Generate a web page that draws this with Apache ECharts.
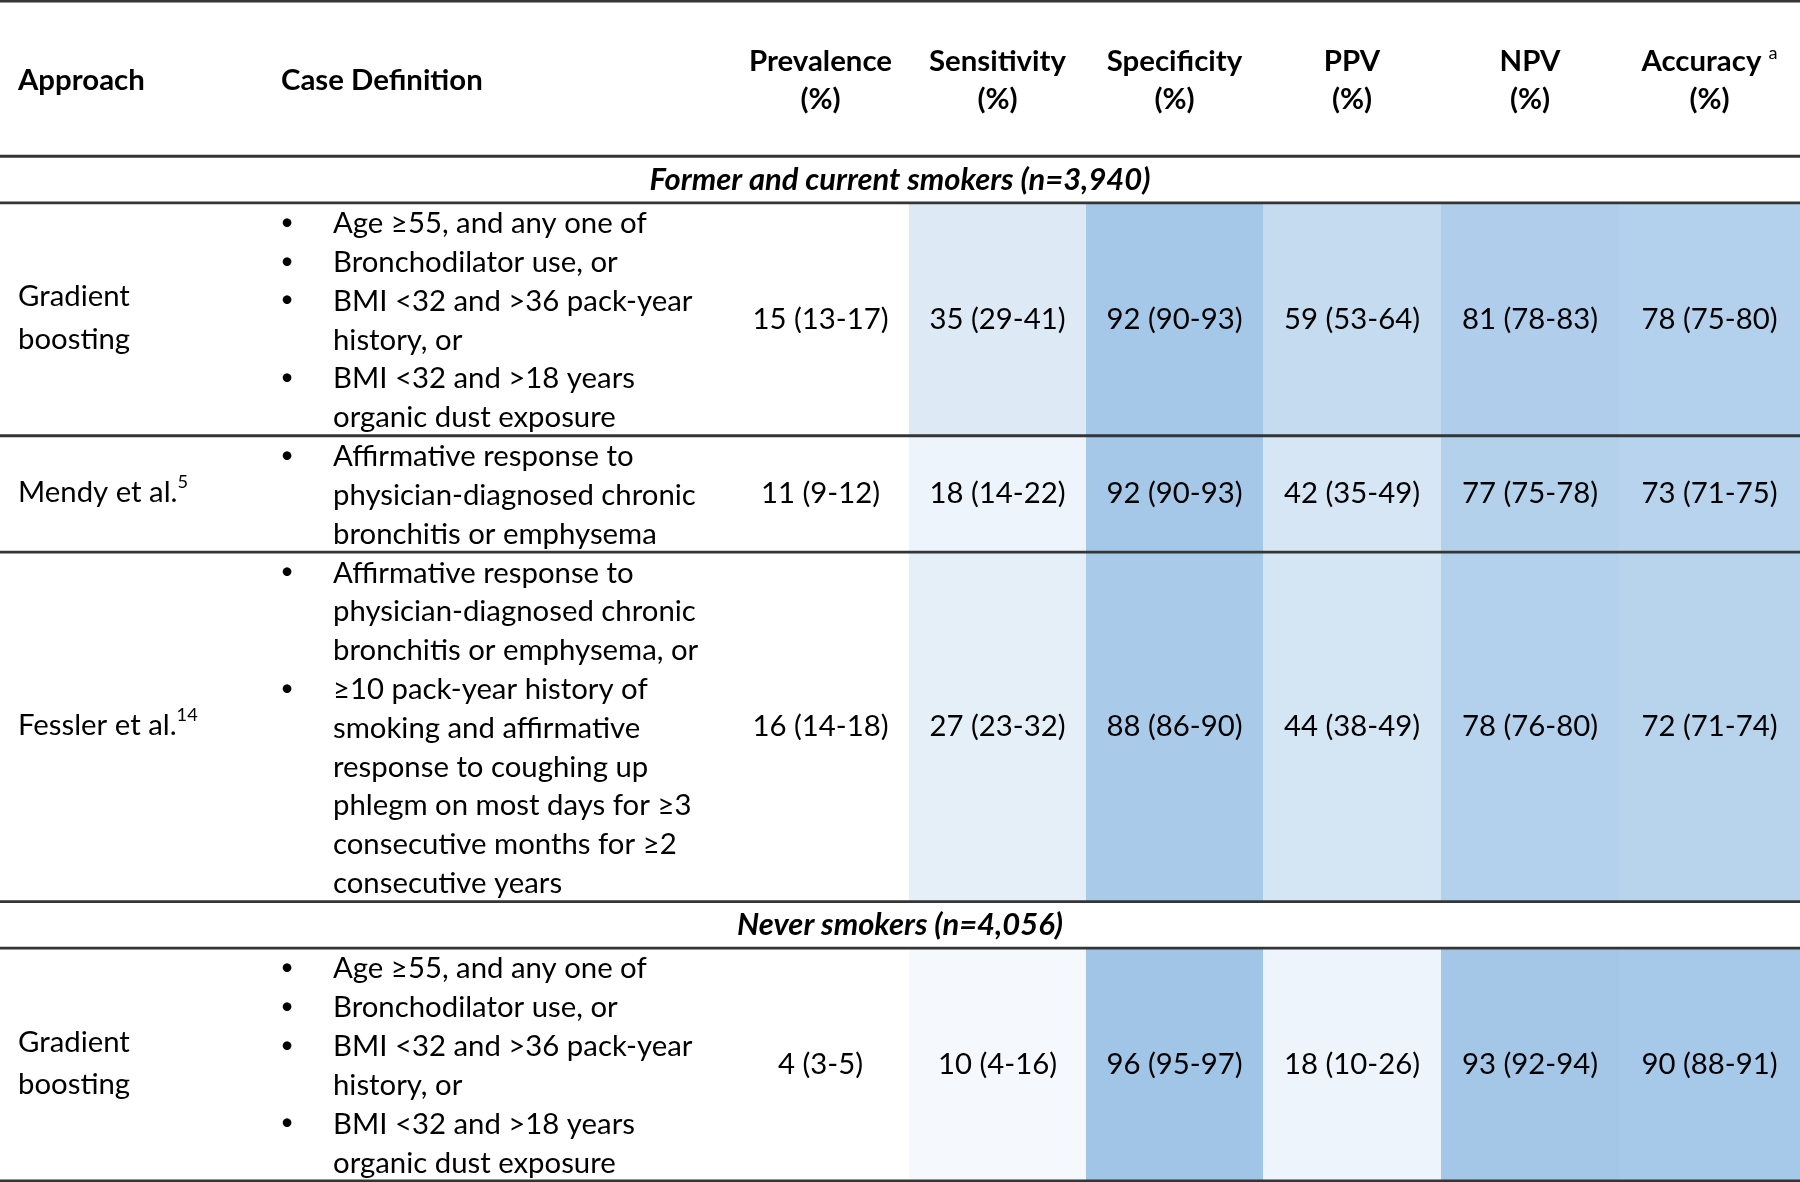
<!DOCTYPE html>
<html>
<head>
<meta charset="utf-8">
<script src="https://cdn.jsdelivr.net/npm/echarts@6/dist/echarts.min.js"></script>
<style>
html,body{margin:0;padding:0;background:#ffffff;}
#chart{width:1800px;height:1182px;}
</style>
</head>
<body>
<div id="chart"></div>
<script>
// ---------------- DATA ----------------
const groupTitles = ['Former and current smokers (n=3,940)', 'Never smokers (n=4,056)'];
const groupOfRow = [0, 0, 0, 1];
const approaches = [['Gradient', 'boosting'], ['Mendy et al.'], ['Fessler et al.'], ['Gradient', 'boosting']];
const approachRefs = ['', '5', '14', ''];
const caseDefinitions = [
  [['Age \u226555, and any one of'], ['Bronchodilator use, or'], ['BMI <32 and >36 pack-year', 'history, or'], ['BMI <32 and >18 years', 'organic dust exposure']],
  [['Affirmative response to', 'physician-diagnosed chronic', 'bronchitis or emphysema']],
  [['Affirmative response to', 'physician-diagnosed chronic', 'bronchitis or emphysema, or'],
   ['\u226510 pack-year history of', 'smoking and affirmative', 'response to coughing up', 'phlegm on most days for \u22653', 'consecutive months for \u22652', 'consecutive years']],
  [['Age \u226555, and any one of'], ['Bronchodilator use, or'], ['BMI <32 and >36 pack-year', 'history, or'], ['BMI <32 and >18 years', 'organic dust exposure']]
];
const headerLabels = ['Approach', 'Case Definition'];
const metricNames = ['Prevalence', 'Sensitivity', 'Specificity', 'PPV', 'NPV', 'Accuracy'];
const metricNotes = ['', '', '', '', '', 'a'];
const prevalence = [15, 11, 16, 4];
const prevalenceCI = ['13-17', '9-12', '14-18', '3-5'];
const sensitivity = [35, 18, 27, 10];
const sensitivityCI = ['29-41', '14-22', '23-32', '4-16'];
const specificity = [92, 92, 88, 96];
const specificityCI = ['90-93', '90-93', '86-90', '95-97'];
const ppv = [59, 42, 44, 18];
const ppvCI = ['53-64', '35-49', '38-49', '10-26'];
const npv = [81, 77, 78, 93];
const npvCI = ['78-83', '75-78', '76-80', '92-94'];
const accuracy = [78, 73, 72, 90];
const accuracyCI = ['75-80', '71-75', '71-74', '88-91'];

// ---------------- LAYOUT / STYLE ----------------
const FONT = 'Lato';
const TEXT = '#000000';
const RULE = '#353535';
const LAYOUT = {
  approachX: 18, caseHeaderX: 281, bulletX: 287, caseTextX: 333,
  colEdges: [732, 909, 1086, 1263, 1441, 1619, 1800],
  headerUnits: 4, groupUnits: 1.2, approachLineUnits: 1.1
};
const mctx = document.createElement('canvas').getContext('2d');
function fit(text, width, weight, style) {
  mctx.font = (style || 'normal') + ' ' + (weight || 'normal') + ' 100px ' + FONT;
  return 100 * width / mctx.measureText(text).width;
}
const BODY = fit('physician-diagnosed chronic', 363);
const HEAD = fit('Prevalence', 143, 'bold');
const SECT = fit('Former and current smokers (n=3,940)', 501, 'bold', 'italic');

const metricValues = [prevalence, sensitivity, specificity, ppv, npv, accuracy];
const metricCIs = [prevalenceCI, sensitivityCI, specificityCI, ppvCI, npvCI, accuracyCI];

// row bands in "line units"
const bands = [];
let u = 0;
const headerBand = { top: u, bottom: u + LAYOUT.headerUnits }; u += LAYOUT.headerUnits; bands.push(headerBand);
const groupBands = [];
const rowBands = [];
for (let r = 0; r < caseDefinitions.length; r++) {
  if (r === 0 || groupOfRow[r] !== groupOfRow[r - 1]) {
    const g = { top: u, bottom: u + LAYOUT.groupUnits, g: groupOfRow[r] };
    u += LAYOUT.groupUnits; groupBands.push(g); bands.push(g);
  }
  const n = caseDefinitions[r].reduce((s, b) => s + b.length, 0);
  const rb = { top: u, bottom: u + n };
  u += n; rowBands.push(rb); bands.push(rb);
}
const TOTAL = u;
const boundaries = [0].concat(bands.map(b => b.bottom));

function txt(x, y, text, align, extra) {
  return { type: 'text', style: Object.assign({ x: x, y: y, text: text, align: align, verticalAlign: 'middle',
    fontFamily: FONT, fontSize: BODY, fill: TEXT }, extra || {}) };
}
function supRich(size, weight, raise) {
  return {
    n: { fontFamily: FONT, fontSize: size, fontWeight: weight || 'normal', fill: TEXT },
    s: { fontFamily: FONT, fontSize: size * 0.62, fill: TEXT, padding: [0, 0, size * raise, 0] }
  };
}

// data for the coloured cells (metrics 1..5)
const cellData = [];
for (let r = 0; r < rowBands.length; r++) {
  for (let m = 1; m < metricNames.length; m++) cellData.push([m, r, metricValues[m][r]]);
}

const chart = echarts.init(document.getElementById('chart'), null, { renderer: 'canvas' });
chart.setOption({
  animation: false,
  backgroundColor: '#ffffff',
  grid: { left: 0, right: 0, top: 1, bottom: 1 },
  xAxis: { type: 'value', min: 0, max: 1800, show: false },
  yAxis: { type: 'value', min: 0, max: TOTAL, inverse: true, show: false },
  visualMap: { show: false, type: 'continuous', min: 0, max: 100, dimension: 2, seriesIndex: 0,
    inRange: { color: ['#FFFFFF', '#9DC3E6'] } },
  series: [
    {
      type: 'custom', z: 1, data: cellData,
      renderItem: function (params, api) {
        const m = api.value(0), r = api.value(1), v = api.value(2);
        const b = rowBands[r];
        const p0 = api.coord([LAYOUT.colEdges[m], b.top]);
        const p1 = api.coord([LAYOUT.colEdges[m + 1], b.bottom]);
        const mid = api.coord([(LAYOUT.colEdges[m] + LAYOUT.colEdges[m + 1]) / 2, (b.top + b.bottom) / 2]);
        return { type: 'group', children: [
          { type: 'rect', shape: { x: p0[0], y: p0[1], width: p1[0] - p0[0], height: p1[1] - p0[1] },
            style: { fill: api.visual('color') } },
          txt(mid[0], mid[1], v + ' (' + metricCIs[m][r] + ')', 'center')
        ] };
      }
    },
    {
      type: 'custom', z: 2, data: rowBands.map((b, i) => [i]),
      renderItem: function (params, api) {
        const r = params.dataIndex;
        const b = rowBands[r];
        const mid = (b.top + b.bottom) / 2;
        const children = [];
        const ap = approaches[r];
        ap.forEach(function (line, i) {
          const p = api.coord([LAYOUT.approachX, mid + (i - (ap.length - 1) / 2) * LAYOUT.approachLineUnits]);
          const ref = (i === ap.length - 1) ? approachRefs[r] : '';
          if (ref) children.push(txt(p[0], p[1] - 1, '{n|' + line + '}{s|' + ref + '}', 'left', { rich: supRich(BODY, 'normal', 0.75) }));
          else children.push(txt(p[0], p[1] - 1, line, 'left'));
        });
        let li = 0;
        caseDefinitions[r].forEach(function (bullet) {
          bullet.forEach(function (line, j) {
            const yU = b.top + li + 0.5;
            const p = api.coord([LAYOUT.caseTextX, yU]);
            if (j === 0) {
              const q = api.coord([LAYOUT.bulletX, yU]);
              children.push(txt(q[0], q[1], '\u2022', 'center', { fontSize: BODY * 0.8 }));
            }
            children.push(txt(p[0], p[1] + 1.5, line, 'left'));
            li++;
          });
        });
        const pc = api.coord([(LAYOUT.colEdges[0] + LAYOUT.colEdges[1]) / 2, mid]);
        children.push(txt(pc[0], pc[1], prevalence[r] + ' (' + prevalenceCI[r] + ')', 'center'));
        return { type: 'group', children: children };
      }
    },
    {
      type: 'custom', z: 2, data: [[0]],
      renderItem: function (params, api) {
        const children = [];
        const mid = (headerBand.top + headerBand.bottom) / 2 + 0.05;
        const hb = { fontWeight: 'bold', fontSize: HEAD };
        let p = api.coord([LAYOUT.approachX, mid]);
        children.push(txt(p[0], p[1], headerLabels[0], 'left', hb));
        p = api.coord([LAYOUT.caseHeaderX, mid]);
        children.push(txt(p[0], p[1], headerLabels[1], 'left', hb));
        metricNames.forEach(function (name, m) {
          const cx = (LAYOUT.colEdges[m] + LAYOUT.colEdges[m + 1]) / 2;
          const p1 = api.coord([cx, mid - 0.5]);
          const p2 = api.coord([cx, mid + 0.5]);
          if (metricNotes[m]) {
            const rich = supRich(HEAD, 'bold', 0.55);
            children.push(txt(p1[0], p1[1], '{n|' + name + ' }{s|' + metricNotes[m] + '}', 'center', { rich: rich }));
          } else {
            children.push(txt(p1[0], p1[1], name, 'center', hb));
          }
          children.push(txt(p2[0], p2[1], '(%)', 'center', hb));
        });
        groupBands.forEach(function (g) {
          const q = api.coord([900, (g.top + g.bottom) / 2]);
          children.push(txt(q[0], q[1], groupTitles[g.g], 'center', { fontWeight: 'bold', fontStyle: 'italic', fontSize: SECT }));
        });
        return { type: 'group', children: children };
      }
    },
    {
      type: 'custom', z: 5, data: boundaries.map(v => [0, v]),
      renderItem: function (params, api) {
        const y = boundaries[params.dataIndex];
        const a = api.coord([0, y]);
        const b = api.coord([1800, y]);
        return { type: 'line', shape: { x1: a[0], y1: a[1], x2: b[0], y2: b[1] },
          style: { stroke: RULE, lineWidth: 2.8 } };
      }
    }
  ]
});
</script>
</body>
</html>
